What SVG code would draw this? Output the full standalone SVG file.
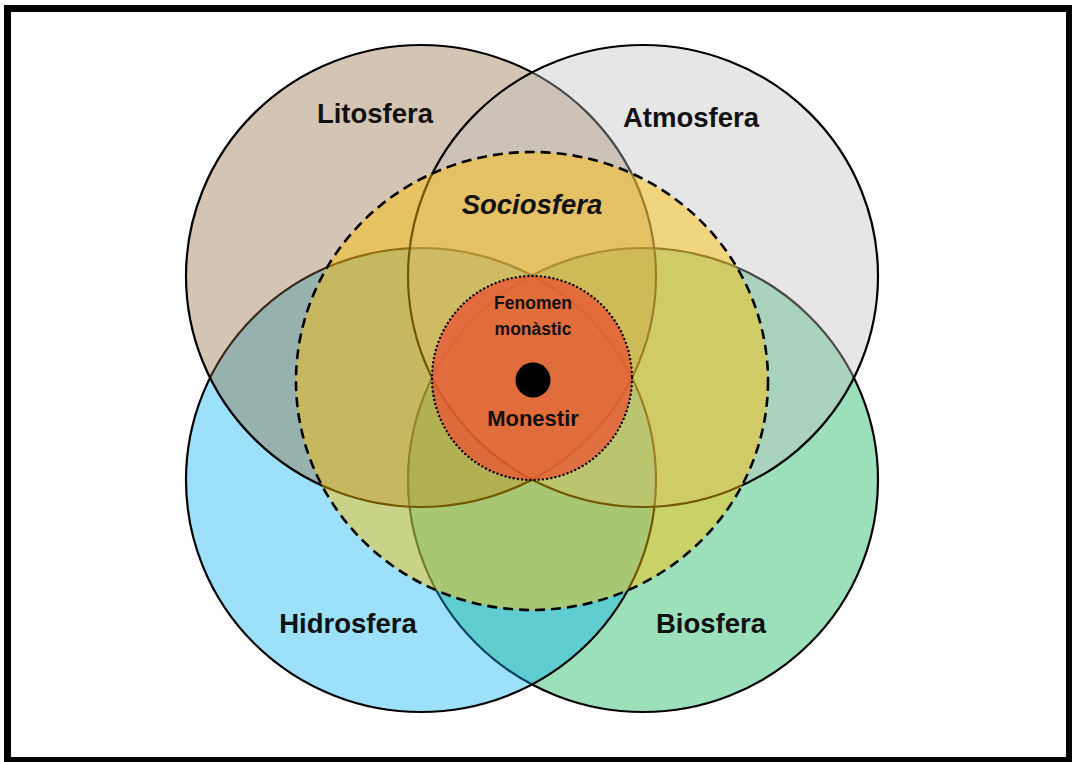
<svg xmlns="http://www.w3.org/2000/svg" width="1072" height="762" viewBox="0 0 1072 762">
<style>
.sphere{stroke:#000;stroke-width:2.2;fill-opacity:0.39}
.lbl{font-family:"Liberation Sans",Arial,sans-serif;font-weight:bold;fill:#111;text-anchor:middle}
.big{font-size:27.5px}
.small{font-size:17.5px}
</style>
<rect x="0" y="0" width="1072" height="762" fill="#fff"/>
<g id="frame" fill="#000">
<rect x="4" y="5" width="1068" height="7"/>
<rect x="4" y="5" width="7" height="757"/>
<rect x="1066" y="5" width="6" height="757"/>
<rect x="4" y="757" width="1068" height="5"/>
</g>
<g id="biosfera">
<ellipse class="sphere" cx="643" cy="480" rx="235" ry="232" fill="#00B050"/>
<text class="lbl big" x="711" y="633">Biosfera</text>
</g>
<g id="hidrosfera">
<ellipse class="sphere" cx="421" cy="480" rx="235" ry="232" fill="#00B0F0"/>
<text class="lbl big" x="348" y="633">Hidrosfera</text>
</g>
<g id="litosfera">
<ellipse class="sphere" cx="421" cy="276" rx="235" ry="231" fill="#91683A"/>
<text class="lbl big" x="375" y="123">Litosfera</text>
</g>
<g id="atmosfera">
<ellipse class="sphere" cx="643" cy="276" rx="235" ry="231" fill="#BFBFBF"/>
<text class="lbl big" x="691" y="127">Atmosfera</text>
</g>
<g id="sociosfera">
<ellipse cx="532" cy="381" rx="236" ry="229" fill="#FFC000" fill-opacity="0.45" stroke="#000" stroke-width="2.6" stroke-dasharray="10 6"/>
<text class="lbl big" x="532" y="214" font-style="italic">Sociosfera</text>
</g>
<g id="fenomen-monastic">
<ellipse cx="532" cy="378" rx="100" ry="102" fill="#E85934" fill-opacity="0.8" stroke="#000" stroke-width="2.4" stroke-linecap="round" stroke-dasharray="0.01 4.2"/>
<text class="lbl small" x="533" y="309">Fenomen</text>
<text class="lbl small" x="533" y="335">monàstic</text>
</g>
<g id="monestir">
<circle cx="533" cy="380" r="17.5" fill="#000"/>
<text class="lbl" x="533" y="426" font-size="22">Monestir</text>
</g>
</svg>
